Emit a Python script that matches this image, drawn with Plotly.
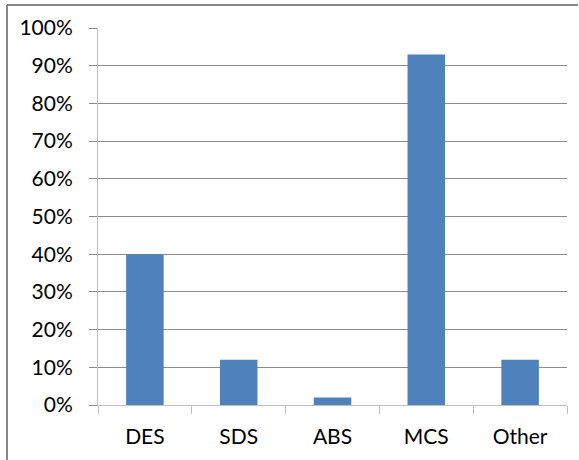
import plotly.graph_objects as go

# Share of responses by scheme type
categories = ["DES", "SDS", "ABS", "MCS", "Other"]
shares = [0.40, 0.12, 0.02, 0.93, 0.12]
y_ticks = [i / 10 for i in range(11)]
y_tick_labels = [f"{i * 10}%" for i in range(11)]

FONT = dict(family="Lato, 'Open Sans', sans-serif", size=21, color="#000000")
GRID = "#8c8c8c"
AXIS = "#c0c0c0"

fig = go.Figure(
    go.Bar(
        x=categories,
        y=shares,
        marker=dict(color="#4f81bd", line=dict(width=0)),
        width=0.4,
    )
)

fig.update_layout(
    width=579,
    height=460,
    margin=dict(l=98, r=12, t=28, b=55),
    paper_bgcolor="white",
    plot_bgcolor="white",
    font=FONT,
    showlegend=False,
    bargap=0.6,
)

fig.update_yaxes(
    range=[0, 1],
    tickvals=y_ticks,
    ticktext=y_tick_labels,
    showgrid=True,
    gridcolor=GRID,
    gridwidth=1,
    ticks="outside",
    ticklen=8,
    tickcolor=GRID,
    showline=True,
    linecolor=AXIS,
    linewidth=1,
    zeroline=False,
    ticklabelstandoff=12,
)

fig.update_xaxes(
    showgrid=False,
    ticks="outside",
    tickson="boundaries",
    ticklen=8,
    tickcolor=AXIS,
    showline=True,
    linecolor=AXIS,
    linewidth=1,
    ticklabelstandoff=13,
)

# Outer chart border (top and left edges)
fig.add_shape(type="line", xref="paper", yref="paper",
              x0=-91 / 469, x1=480 / 469, y0=400 / 377, y1=400 / 377,
              line=dict(color="#888888", width=2))
fig.add_shape(type="line", xref="paper", yref="paper",
              x0=-91 / 469, x1=-91 / 469, y0=400 / 377, y1=-60 / 377,
              line=dict(color="#888888", width=2))

fig.write_html("out.html")
